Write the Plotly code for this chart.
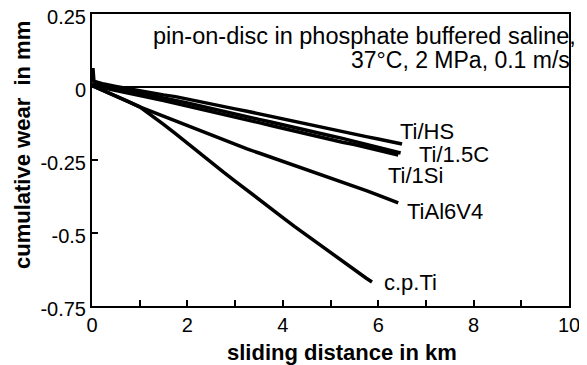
import plotly.graph_objects as go

# sliding distance (km) and cumulative wear (mm)
hs_x = [0, 0.02, 0.04, 0.25, 0.5, 0.75, 1.0, 1.25, 1.5, 1.75, 2.0, 2.25, 2.5, 2.75, 3.0, 3.25, 3.5,
        3.75, 4.0, 4.25, 4.5, 4.75, 5.0, 5.25, 5.5, 5.75, 6.0, 6.25, 6.5]
hs_y = [0.015, 0.065, 0.02, 0.010, 0.002, -0.006, -0.012, -0.020, -0.027, -0.033, -0.042, -0.050,
        -0.058, -0.067, -0.075, -0.083, -0.092, -0.100, -0.110, -0.118, -0.128, -0.136, -0.145,
        -0.153, -0.161, -0.170, -0.178, -0.186, -0.195]

c15_x = [0, 0.25, 0.5, 0.75, 1.0, 1.25, 1.5, 1.75, 2.0, 2.25, 2.5, 2.75, 3.0, 3.25, 3.5, 3.75, 4.0,
         4.25, 4.5, 4.75, 5.0, 5.25, 5.5, 5.75, 6.0, 6.25, 6.47]
c15_y = [0.010, 0.003, -0.005, -0.013, -0.020, -0.029, -0.037, -0.046, -0.055, -0.064, -0.074,
         -0.083, -0.092, -0.101, -0.111, -0.120, -0.130, -0.139, -0.148, -0.158, -0.167, -0.176,
         -0.186, -0.196, -0.205, -0.216, -0.226]

si_x = [0, 0.25, 0.5, 0.75, 1.0, 1.25, 1.5, 1.75, 2.0, 2.25, 2.5, 2.75, 3.0, 3.25, 3.5, 3.75, 4.0,
        4.25, 4.5, 4.75, 5.0, 5.25, 5.5, 5.75, 6.0, 6.25, 6.42]
si_y = [0.005, -0.003, -0.011, -0.019, -0.027, -0.037, -0.046, -0.056, -0.065, -0.075, -0.084,
        -0.094, -0.103, -0.113, -0.122, -0.132, -0.142, -0.151, -0.161, -0.170, -0.180, -0.189,
        -0.197, -0.206, -0.215, -0.225, -0.233]

al_x = [0, 0.25, 0.5, 0.75, 1.0, 1.25, 1.5, 1.75, 2.0, 2.25, 2.5, 2.75, 3.0, 3.25, 3.5, 3.75, 4.0,
        4.25, 4.5, 4.75, 5.0, 5.25, 5.5, 5.75, 6.0, 6.25, 6.42]
al_y = [0.005, -0.012, -0.030, -0.049, -0.068, -0.084, -0.100, -0.117, -0.135, -0.151, -0.166,
        -0.181, -0.197, -0.212, -0.226, -0.240, -0.254, -0.268, -0.282, -0.297, -0.311, -0.325,
        -0.340, -0.355, -0.370, -0.386, -0.397]

cp_x = [0, 0.25, 0.5, 0.75, 1.0, 1.25, 1.5, 1.75, 2.0, 2.25, 2.5, 2.75, 3.0, 3.25, 3.5, 3.75, 4.0,
        4.25, 4.5, 4.75, 5.0, 5.25, 5.5, 5.75, 5.87]
cp_y = [0.005, -0.012, -0.030, -0.049, -0.068, -0.097, -0.128, -0.160, -0.193, -0.228, -0.259,
        -0.291, -0.322, -0.354, -0.386, -0.416, -0.447, -0.478, -0.508, -0.538, -0.567, -0.597,
        -0.626, -0.655, -0.668]

series = [("Ti/HS", hs_x, hs_y), ("Ti/1.5C", c15_x, c15_y), ("Ti/1Si", si_x, si_y),
          ("TiAl6V4", al_x, al_y), ("c.p.Ti", cp_x, cp_y)]

# label anchor points (km, mm)
label_names = ["Ti/HS", "Ti/1.5C", "Ti/1Si", "TiAl6V4", "c.p.Ti"]
label_x = [6.41, 6.81, 6.16, 6.56, 6.07]
label_y = [-0.154, -0.231, -0.304, -0.428, -0.671]

y_ticks = [0.25, 0, -0.25, -0.5, -0.75]
y_ticktext = ["0.25", "0", "-0.25", "-0.5", "-0.75"]
x_ticks = [0, 2, 4, 6, 8, 10]

FONT = "Liberation Sans, Arial, sans-serif"

fig = go.Figure()
for name, xs, ys in series:
    fig.add_trace(go.Scatter(x=xs, y=ys, mode="lines", name=name,
                             line=dict(color="black", width=3.5), showlegend=False))

annotations = []
for n, lx, ly in zip(label_names, label_x, label_y):
    annotations.append(dict(x=lx, y=ly, xref="x", yref="y", text=n, showarrow=False,
                            xanchor="left", yanchor="middle",
                            font=dict(family=FONT, size=22, color="black")))

annotations += [
    dict(x=1.019, y=0.925, xref="paper", yref="paper", text="pin-on-disc in phosphate buffered saline,",
         showarrow=False, xanchor="right", yanchor="middle", font=dict(family=FONT, size=23.5, color="black")),
    dict(x=1.007, y=0.842, xref="paper", yref="paper", text="37°C, 2 MPa, 0.1 m/s",
         showarrow=False, xanchor="right", yanchor="middle", font=dict(family=FONT, size=23, color="black")),
    dict(x=0.524, y=-0.158, xref="paper", yref="paper", text="<b>sliding distance in km</b>",
         showarrow=False, xanchor="center", yanchor="middle", font=dict(family=FONT, size=22, color="black")),
    dict(x=-0.147, y=0.551, xref="paper", yref="paper", text="<b>cumulative wear  in mm</b>",
         showarrow=False, xanchor="center", yanchor="middle", textangle=-90,
         font=dict(family=FONT, size=22, color="black")),
]

# page has an 8px body margin, so the figure is 8px smaller and left/top margins shifted
fig.update_layout(
    width=579, height=357,
    margin=dict(l=84, r=18, t=6, b=59, autoexpand=False),
    paper_bgcolor="white", plot_bgcolor="white",
    font=dict(family=FONT, size=20, color="black"),
    annotations=annotations,
    xaxis=dict(range=[0, 10], tickvals=x_ticks, ticks="inside", ticklen=6, tickwidth=1.5,
               tickcolor="black", showline=True, linecolor="black", linewidth=2, mirror=True,
               showgrid=False, zeroline=False, automargin=False, ticklabeloverflow="allow",
               minor=dict(dtick=1, ticks="inside", ticklen=6, tickwidth=1.5, tickcolor="black")),
    yaxis=dict(range=[-0.75, 0.25], tickvals=y_ticks, ticktext=y_ticktext, ticks="inside",
               ticklen=6, tickwidth=1.5, tickcolor="black", showline=True, linecolor="black",
               linewidth=2, mirror=True, showgrid=False, zeroline=True, zerolinecolor="black",
               zerolinewidth=2, automargin=False, ticklabeloverflow="allow", ticklabelshift=3),
)

fig.write_html("out.html")
